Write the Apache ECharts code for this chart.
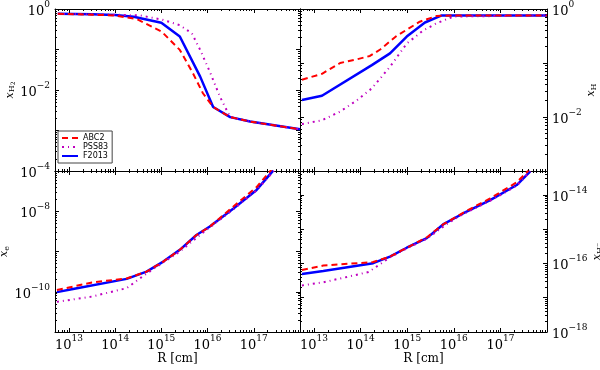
<!DOCTYPE html>
<html><head><meta charset="utf-8">
<script src="https://cdn.jsdelivr.net/npm/echarts@6/dist/echarts.min.js"></script>
<style>html,body{margin:0;padding:0;background:#fff}#c{width:600px;height:370px}</style>
</head><body><div id="c"></div>
<script>
// ---------- DATA ----------
const seriesNames = ['ABC2', 'PSS83', 'F2013'];
const xTickLabels = ['10^13', '10^14', '10^15', '10^16', '10^17'];

// Panel 1: x_H2
const h2_R_ABC2  = [5.75e12, 3.16e13, 1e14, 2.95e14, 1.02e15, 2.51e15, 4.79e15, 7.94e15, 1.32e16, 3.09e16, 8.32e16, 1e18];
const h2_ABC2    = [0.759, 0.724, 0.692, 0.562, 0.275, 0.0977, 0.0263, 0.0083, 0.0038, 0.00214, 0.00166, 0.00107];
const h2_R_PSS83 = [5.75e12, 3.16e13, 1e14, 3.47e14, 1.02e15, 2.51e15, 4.57e15, 6.92e15, 1.12e16, 1.86e16, 3.09e16, 8.32e16, 1e18];
const h2_PSS83   = [0.759, 0.741, 0.724, 0.692, 0.55, 0.398, 0.251, 0.0977, 0.0282, 0.00676, 0.00214, 0.00166, 0.00107];
const h2_R_F2013 = [5.75e12, 3.16e13, 1e14, 2.51e14, 1e15, 2.51e15, 6.92e15, 1.32e16, 3.09e16, 8.32e16, 1e18];
const h2_F2013   = [0.759, 0.741, 0.708, 0.646, 0.457, 0.209, 0.0214, 0.0038, 0.00214, 0.00166, 0.00107];

// Panel 2: x_H
const h_R_ABC2  = [5.5e12, 1.48e13, 3.63e13, 8.32e13, 1.58e14, 2.63e14, 5.89e14, 1.86e15, 4.27e15, 9.77e15, 1e18];
const h_ABC2    = [0.049, 0.063, 0.1, 0.117, 0.135, 0.178, 0.316, 0.582, 0.741, 0.76, 0.76];
const h_R_PSS83 = [5.5e12, 1.48e13, 3.63e13, 8.32e13, 1.74e14, 4.27e14, 9.77e14, 2.19e15, 4.27e15, 9.77e15, 1e18];
const h_PSS83   = [0.0074, 0.0087, 0.0126, 0.0204, 0.0339, 0.0851, 0.229, 0.398, 0.543, 0.724, 0.759];
const h_R_F2013 = [5.5e12, 1.48e13, 1.74e14, 4.27e14, 9.77e14, 2.4e15, 5.5e15, 1e18];
const h_F2013   = [0.0207, 0.0248, 0.0912, 0.151, 0.309, 0.562, 0.759, 0.759];

// Panel 3: x_e
const e_R_ABC2  = [5.5e12, 3.16e13, 1.78e14, 4.79e14, 1.1e15, 2.51e15, 5.75e15, 1.12e16, 3.63e16, 1.15e17, 2.4e17];
const e_ABC2    = [1.1e-10, 1.7e-10, 2.14e-10, 3.16e-10, 5.62e-10, 1.1e-9, 2.57e-9, 4.17e-9, 1.32e-8, 3.98e-8, 1.07e-7];
const e_R_PSS83 = [5.5e12, 3.16e13, 1.78e14, 4.37e14, 1.1e15, 2.51e15, 5.75e15, 1.12e16, 3.63e16, 1.15e17, 2.75e17];
const e_PSS83   = [5.6e-11, 7.6e-11, 1.23e-10, 2.63e-10, 5.37e-10, 1e-9, 2.19e-9, 3.98e-9, 1.12e-8, 3.31e-8, 1.02e-7];
const e_R_F2013 = [5.5e12, 1.23e13, 1.78e14, 4.79e14, 1.1e15, 2.51e15, 5.75e15, 1.12e16, 3.63e16, 1.15e17, 2.63e17];
const e_F2013   = [9.8e-11, 1.17e-10, 2.09e-10, 3.16e-10, 5.62e-10, 1.1e-9, 2.57e-9, 4.17e-9, 1.17e-8, 3.39e-8, 1.02e-7];

// Panel 4: x_H-
const hm_R_ABC2  = [5.5e12, 1.58e13, 1.86e14, 4.27e14, 9.77e14, 2.63e15, 5.89e15, 1.58e16, 6.03e16, 2.24e17, 3.98e17];
const hm_ABC2    = [6.46e-17, 8.71e-17, 1.1e-16, 1.58e-16, 2.88e-16, 5.75e-16, 1.38e-15, 3.02e-15, 7.94e-15, 2.34e-14, 5.1e-14];
const hm_R_PSS83 = [5.5e12, 1.58e13, 1.48e14, 4.27e14, 9.77e14, 2.63e15, 7.94e15, 1.58e16, 6.03e16, 2.24e17, 4.37e17];
const hm_PSS83   = [2.29e-17, 2.82e-17, 5.62e-17, 1.51e-16, 2.75e-16, 5.25e-16, 1.58e-15, 2.75e-15, 6.76e-15, 1.86e-14, 4.9e-14];
const hm_R_F2013 = [5.5e12, 1.58e13, 1.86e14, 4.27e14, 9.77e14, 2.63e15, 5.89e15, 1.58e16, 6.03e16, 2.24e17, 4.37e17];
const hm_F2013   = [4.9e-17, 6.03e-17, 1.02e-16, 1.58e-16, 2.88e-16, 5.5e-16, 1.38e-15, 2.88e-15, 7.08e-15, 1.95e-14, 4.9e-14];

const xRange = [5e12, 1e18];
const yRanges = [[1e-4, 1], [1e-3, 1], [1e-11, 1e-7], [1e-18, 5e-14]];

// ---------- LAYOUT / STYLE ----------
const grids = [
  {left: 55, top: 9, width: 245, height: 162},
  {left: 300, top: 9, width: 247, height: 162},
  {left: 55, top: 171, width: 245, height: 161},
  {left: 300, top: 171, width: 247, height: 161}
];
const panelData = [
  [[h2_R_ABC2, h2_ABC2], [h2_R_PSS83, h2_PSS83], [h2_R_F2013, h2_F2013]],
  [[h_R_ABC2, h_ABC2], [h_R_PSS83, h_PSS83], [h_R_F2013, h_F2013]],
  [[e_R_ABC2, e_ABC2], [e_R_PSS83, e_PSS83], [e_R_F2013, e_F2013]],
  [[hm_R_ABC2, hm_ABC2], [hm_R_PSS83, hm_PSS83], [hm_R_F2013, hm_F2013]]
];
const ySide = ['left', 'right', 'left', 'right'];
const yNames = ['{i|x}{s|H}{s2|2}', '{i|x}{s|H}', '{i|x}{s|e}', '{i|x}{s|H⁻}'];
const styles = [
  {color: '#ff0000', width: 2, type: [6, 4], z: 4},
  {color: '#bf00bf', width: 2, type: [2, 4, 1, 4], z: 3},
  {color: '#0000ff', width: 2.5, type: 'solid', z: 2}
];
const serif = 'DejaVu Serif';
const tickRich = {
  b: {fontFamily: serif, fontSize: 13, color: '#000', lineHeight: 18, verticalAlign: 'bottom'},
  s: {fontFamily: serif, fontSize: 9, color: '#000', lineHeight: 8, verticalAlign: 'top'}
};
const nameRich = {
  i: {fontFamily: serif, fontStyle: 'italic', fontSize: 11, color: '#000', lineHeight: 12, verticalAlign: 'top'},
  s: {fontFamily: serif, fontSize: 8, color: '#000', lineHeight: 8, verticalAlign: 'bottom'},
  s2: {fontFamily: serif, fontSize: 6, color: '#000', lineHeight: 6, verticalAlign: 'bottom'}
};

function exponentOf(v) {
  const e = Math.log10(v), r = Math.round(e);
  return Math.abs(e - r) > 1e-6 ? null : r;
}
function supText(r) { return r < 0 ? '−' + (-r) : String(r); }
function yFmt(v) {
  const r = exponentOf(v);
  if (r === null || r % 2 !== 0) return '';
  return '{b|10}{s|' + supText(r) + '}';
}
function xFmt(v) {
  const r = exponentOf(v);
  if (r === null) return '';
  const lbl = '10^' + r;
  if (xTickLabels.indexOf(lbl) < 0) return '';
  return '{b|10}{s|' + supText(r) + '}';
}

const xAxes = [], yAxes = [], series = [];
const axisCommon = {
  axisLine: {show: true, onZero: false, lineStyle: {color: '#000', width: 1}},
  axisTick: {show: true, inside: true, length: 4, lineStyle: {color: '#000', width: 1}},
  minorTick: {show: true, splitNumber: 9, length: 2, lineStyle: {color: '#000', width: 1}},
  splitLine: {show: false},
  minorSplitLine: {show: false}
};
grids.forEach((g, p) => {
  const bottomRow = p >= 2;
  ['bottom', 'top'].forEach((pos, k) => {
    const ax = Object.assign({}, axisCommon, {
      gridIndex: p, type: 'log', logBase: 10, min: xRange[0], max: xRange[1], position: pos,
      axisLabel: {show: bottomRow && k === 0, formatter: xFmt, margin: 2, rich: tickRich}
    });
    if (bottomRow && k === 0) {
      ax.name = 'R [cm]'; ax.nameLocation = 'middle'; ax.nameGap = 21;
      ax.nameTextStyle = {fontFamily: serif, fontSize: 12, color: '#000'};
    }
    xAxes.push(ax);
  });
  const side = ySide[p];
  [side, side === 'left' ? 'right' : 'left'].forEach((pos, k) => {
    const ax = Object.assign({}, axisCommon, {
      gridIndex: p, type: 'log', logBase: 10, min: yRanges[p][0], max: yRanges[p][1], position: pos,
      axisLabel: {show: k === 0, formatter: yFmt, margin: 5, rich: tickRich}
    });
    if (k === 0) {
      ax.name = yNames[p]; ax.nameLocation = 'middle'; ax.nameGap = 38; ax.nameRotate = 90;
      ax.nameTextStyle = {rich: nameRich};
    }
    yAxes.push(ax);
  });
  seriesNames.forEach((nm, j) => {
    const d = panelData[p][j];
    const st = styles[j];
    series.push({
      name: nm, type: 'line', xAxisIndex: 2 * p, yAxisIndex: 2 * p,
      data: d[0].map((r, i) => [r, d[1][i]]),
      symbol: 'none', showSymbol: false, clip: true, z: st.z, silent: true,
      lineStyle: {color: st.color, width: st.width, type: st.type},
      itemStyle: {color: st.color}
    });
  });
});

const chart = echarts.init(document.getElementById('c'));
chart.setOption({
  animation: false,
  backgroundColor: '#fff',
  grid: grids.map(g => Object.assign({outerBoundsMode: 'none', containLabel: false}, g)),
  xAxis: xAxes,
  yAxis: yAxes,
  legend: {
    data: seriesNames, orient: 'vertical', left: 58, top: 131,
    itemWidth: 16, itemHeight: 6, itemGap: 1, padding: [3, 4, 3, 3],
    borderColor: '#444', borderWidth: 1, borderRadius: 0, backgroundColor: '#fff',
    itemStyle: {opacity: 0},
    textStyle: {fontFamily: 'DejaVu Sans', fontSize: 8, color: '#000'},
    selectedMode: false
  },
  series: series
});
</script></body></html>
